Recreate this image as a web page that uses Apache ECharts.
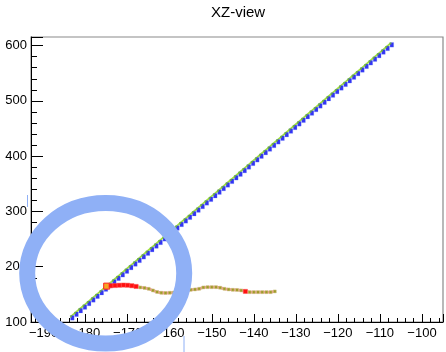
<!DOCTYPE html>
<html><head><meta charset="utf-8">
<script src="https://cdn.jsdelivr.net/npm/echarts@6/dist/echarts.min.js"></script>
<style>html,body{margin:0;padding:0;background:#fff}#c{width:446px;height:352px}</style>
</head><body><div id="c"></div>
<script>
const chartTitle = 'XZ-view';
// diagonal track (x, z)
const diagX = [-183.5,-182.5,-181.5,-180.5,-179.5,-178.5,-177.5,-176.5,-175.5,-174.5,
  -173.5,-172.5,-171.5,-170.5,-169.5,-168.5,-167.5,-166.5,-165.5,-164.5,
  -163.5,-162.5,-161.5,-160.5,-159.5,-158.5,-157.5,-156.5,-155.5,-154.5,
  -153.5,-152.5,-151.5,-150.5,-149.5,-148.5,-147.5,-146.5,-145.5,-144.5,
  -143.5,-142.5,-141.5,-140.5,-139.5,-138.5,-137.5,-136.5,-135.5,-134.5,
  -133.5,-132.5,-131.5,-130.5,-129.5,-128.5,-127.5,-126.5,-125.5,-124.5,
  -123.5,-122.5,-121.5,-120.5,-119.5,-118.5,-117.5,-116.5,-115.5,-114.5,
  -113.5,-112.5,-111.5,-110.5,-109.5,-108.5,-107.5];
const diagY = [110.0,116.5,123.0,129.5,136.0,142.5,149.0,155.5,162.0,168.5,
  175.0,181.5,188.0,194.5,201.0,207.5,214.0,220.5,227.0,233.5,
  240.0,246.5,253.0,259.5,266.0,272.5,279.0,285.5,292.0,298.5,
  305.0,311.5,318.0,324.5,331.0,337.5,344.0,350.5,357.0,363.5,
  370.0,376.5,383.0,389.5,396.0,402.5,409.0,415.5,422.0,428.5,
  435.0,441.5,448.0,454.5,461.0,467.5,474.0,480.5,487.0,493.5,
  500.0,506.5,513.0,519.5,526.0,532.5,539.0,545.5,552.0,558.5,
  565.0,571.5,578.0,584.5,591.0,597.5,604.0];
// wavy track (x, z)
const curveX = [-175,-174,-173,-172,-171,-170,-169,-168,-167,-166,
  -165,-164,-163,-162,-161,-160,-159,-158,-157,-156,
  -155,-154,-153,-152,-151,-150,-149,-148,-147,-146,
  -145,-144,-143,-142,-141,-140,-139,-138,-137,-136,-135];
const curveY = [164.9,165.6,166.0,166.5,166.8,166.5,165.6,164.3,162.5,161.6,
  160.1,157.1,154.3,152.9,152.5,152.9,153.4,154.7,155.8,157.4,
  158.3,158.9,160.1,162.5,163.0,163.0,163.0,162.0,160.1,158.9,
  158.3,158.0,157.1,155.3,154.0,154.0,154.0,154.0,154.0,154.0,155.3];
const redHitX = [-175,-174,-173,-172,-171,-170,-169,-168,-142];

const FONT = 'Liberation Sans';
const fmt = v => (Math.abs(v - Math.round(v / 10) * 10) > 1e-6) ? '' : (v < 0 ? '\u2212' + Math.abs(v) : String(v));
const fmtY = v => (Math.abs(v - Math.round(v / 100) * 100) > 1e-6) ? '' : String(v);

const chart = echarts.init(document.getElementById('c'), null, {renderer: 'canvas'});
chart.setOption({
  animation: false,
  backgroundColor: '#fff',
  title: {text: chartTitle, left: 211, top: 5, padding: 0,
    textStyle: {fontFamily: FONT, fontSize: 15, fontWeight: 'normal', color: '#000'}},
  grid: {left: 31, top: 37, width: 429, height: 285, show: true, borderColor: '#8a8a8a', borderWidth: 1.2, backgroundColor: 'transparent'},
  xAxis: {type: 'value', min: -193, max: -95, splitNumber: 10, minInterval: 10, maxInterval: 10,
    axisLine: {lineStyle: {color: '#000', width: 1}},
    axisTick: {inside: true, length: 8, lineStyle: {color: '#000'}},
    minorTick: {show: true, splitNumber: 5, length: 4, lineStyle: {color: '#000'}},
    splitLine: {show: false},
    axisLabel: {formatter: fmt, margin: 5, fontFamily: FONT, fontSize: 13, color: '#000', showMinLabel: false}},
  yAxis: {type: 'value', min: 100, max: 615.6, interval: 100,
    axisLine: {lineStyle: {color: '#000', width: 1}},
    axisTick: {inside: true, length: 12, lineStyle: {color: '#000'}},
    minorTick: {show: true, splitNumber: 5, length: 6, lineStyle: {color: '#000'}},
    splitLine: {show: false},
    axisLabel: {formatter: fmtY, margin: 4, fontFamily: FONT, fontSize: 13, color: '#000', showMaxLabel: false}},
  series: [
    {type: 'line', data: diagX.map((x, i) => [x, diagY[i]]), showSymbol: false, symbol: 'none',
      lineStyle: {color: '#a2e03c', width: 1.8}, z: 2},
    {type: 'scatter', data: diagX.map((x, i) => [x, diagY[i]]), symbol: 'rect', symbolSize: [3.6, 4.6], symbolOffset: [1.4, 1.4],
      itemStyle: {color: '#0000f0', borderColor: 'rgba(110,140,255,0.5)', borderWidth: 0.6}, z: 3},
    {type: 'scatter', data: diagX.map((x, i) => [x, diagY[i]]), symbol: 'rect', symbolSize: 2,
      itemStyle: {color: '#78c030'}, z: 4},
    {type: 'line', data: curveX.map((x, i) => {
        const red = redHitX.indexOf(x) >= 0;
        const first = i === 0;
        return {value: [x, curveY[i]],
          symbolSize: first ? 6 : (red ? 4.2 : 3),
          itemStyle: {color: first ? '#f5a623' : (red ? '#ff1010' : '#a09a28'),
                      borderColor: first ? '#ff2020' : (red ? '#ff5050' : '#d6cf9a'), borderWidth: first ? 1 : 0.5}};
      }),
      symbol: 'rect', showSymbol: true, showAllSymbol: true,
      lineStyle: {color: '#f58a8a', width: 2.8}, z: 5}
  ],
  graphic: [
    {type: 'ellipse', shape: {cx: 105.7, cy: 273.3, rx: 78.5, ry: 70.2},
      style: {fill: null, stroke: '#8fb0f6', lineWidth: 16}, z: 100},
    {type: 'line', shape: {x1: 184, y1: 336, x2: 184, y2: 352}, style: {stroke: '#8fb0f6', lineWidth: 1}, z: 100},
    {type: 'line', shape: {x1: 27.5, y1: 195, x2: 27.5, y2: 207}, style: {stroke: '#8fb0f6', lineWidth: 1}, z: 100}
  ]
});
</script></body></html>
